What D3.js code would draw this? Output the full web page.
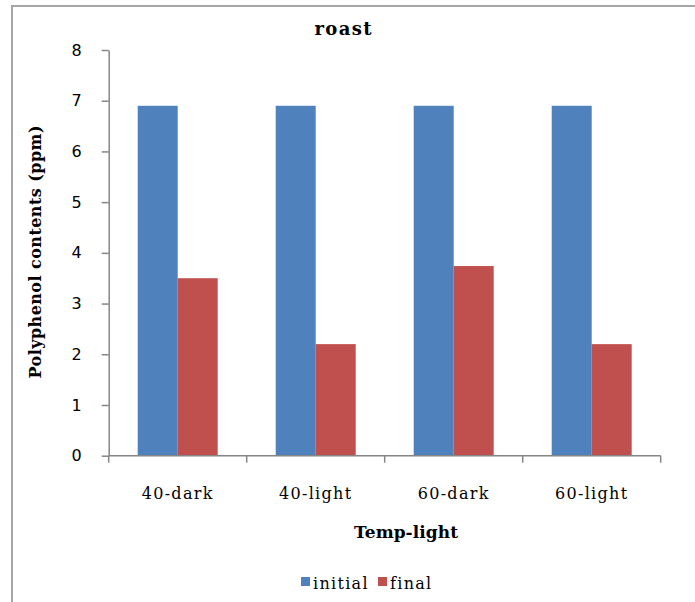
<!DOCTYPE html>
<html>
<head>
<meta charset="utf-8">
<script src="https://cdn.jsdelivr.net/npm/d3@7"></script>
<style>
  html, body { margin: 0; padding: 0; background: #fff; }
  svg { display: block; }
</style>
</head>
<body>
<script>
// Polyphenol content before and after roasting, per temperature/light condition
const categories = ["40-dark", "40-light", "60-dark", "60-light"];
const seriesNames = ["initial", "final"];
const initialValues = [6.9, 6.9, 6.9, 6.9];
const finalValues = [3.5, 2.2, 3.74, 2.2];
const yTicks = [0, 1, 2, 3, 4, 5, 6, 7, 8];

const width = 695, height = 602;
const colors = { initial: "#4F81BD", final: "#C0504D" };
const axisColor = "#868686";
const serif = "'DejaVu Serif', serif";

const rows = categories.map((c, i) => ({ category: c, initial: initialValues[i], final: finalValues[i] }));

const svg = d3.select("body").append("svg")
  .attr("width", width).attr("height", height);

// chart-area frame (runs off the right and bottom edges)
svg.append("rect")
  .attr("x", 12).attr("y", 6)
  .attr("width", width + 20).attr("height", height + 20)
  .attr("fill", "#fff").attr("stroke", "#a6a6a6").attr("stroke-width", 2);

const plot = { left: 108.7, right: 660.7, top: 50, bottom: 455.7 };

const x0 = d3.scaleBand().domain(categories).range([plot.left, plot.right]).padding(0);
const x1 = d3.scaleBand().domain(seriesNames).range([0, x0.bandwidth()])
  .paddingInner(0).paddingOuter(0.725);
const y = d3.scaleLinear().domain([0, 8]).range([plot.bottom, plot.top]);

// bars
const groups = svg.append("g").selectAll("g").data(rows).join("g")
  .attr("transform", d => `translate(${x0(d.category)},0)`);
groups.selectAll("rect")
  .data(d => seriesNames.map(k => ({ key: k, value: d[k] })))
  .join("rect")
  .attr("x", d => x1(d.key))
  .attr("width", x1.bandwidth())
  .attr("y", d => y(d.value))
  .attr("height", d => y(0) - y(d.value))
  .attr("fill", d => colors[d.key]);

// y axis
const yAxis = svg.append("g")
  .attr("transform", `translate(${plot.left},0)`)
  .call(d3.axisLeft(y).tickValues(yTicks).tickFormat(d3.format("d")).tickSize(7).tickSizeOuter(0).tickPadding(20));
yAxis.select(".domain").attr("stroke", axisColor).attr("stroke-width", 1.5);
yAxis.selectAll(".tick line").attr("stroke", axisColor).attr("stroke-width", 1.5);
yAxis.selectAll(".tick text")
  .attr("fill", "#000")
  .style("font-family", "'DejaVu Sans', sans-serif")
  .style("font-size", "16px");

// x axis with ticks at category boundaries
const xAxisG = svg.append("g").attr("transform", `translate(0,${plot.bottom})`);
xAxisG.append("line")
  .attr("x1", plot.left).attr("x2", plot.right)
  .attr("stroke", axisColor).attr("stroke-width", 1.5);
const boundaries = categories.map(c => x0(c)).concat([x0(categories[categories.length - 1]) + x0.bandwidth()]);
xAxisG.selectAll("line.tick").data(boundaries).join("line")
  .attr("class", "tick")
  .attr("x1", d => d).attr("x2", d => d)
  .attr("y1", 0).attr("y2", 7)
  .attr("stroke", axisColor).attr("stroke-width", 1.5);
xAxisG.selectAll("text").data(categories).join("text")
  .attr("x", d => x0(d) + x0.bandwidth() / 2)
  .attr("y", 43.3)
  .attr("text-anchor", "middle")
  .style("font-family", serif)
  .style("font-size", "16px")
  .style("letter-spacing", "1.3px")
  .text(d => d);

// titles
svg.append("text")
  .attr("x", 343).attr("y", 35)
  .attr("text-anchor", "middle")
  .attr("textLength", 57).attr("lengthAdjust", "spacing")
  .style("font-family", serif).style("font-weight", "bold").style("font-size", "18px")
  .text("roast");

svg.append("text")
  .attr("x", 406).attr("y", 538)
  .attr("text-anchor", "middle")
  .attr("textLength", 104).attr("lengthAdjust", "spacing")
  .style("font-family", serif).style("font-weight", "bold").style("font-size", "17px")
  .text("Temp-light");

svg.append("text")
  .attr("transform", "translate(41,252) rotate(-90)")
  .attr("text-anchor", "middle")
  .attr("textLength", 253).attr("lengthAdjust", "spacing")
  .style("font-family", serif).style("font-weight", "bold").style("font-size", "16px")
  .text("Polyphenol contents (ppm)");

// legend
const legend = svg.append("g");
const legendX = [301, 378];
seriesNames.forEach((name, i) => {
  legend.append("rect")
    .attr("x", legendX[i]).attr("y", 577)
    .attr("width", 9).attr("height", 9)
    .attr("fill", colors[name]);
  legend.append("text")
    .attr("x", legendX[i] + 12).attr("y", 589)
    .style("font-family", serif).style("font-size", "16px")
    .style("letter-spacing", "1.3px")
    .text(name);
});
</script>
</body>
</html>
